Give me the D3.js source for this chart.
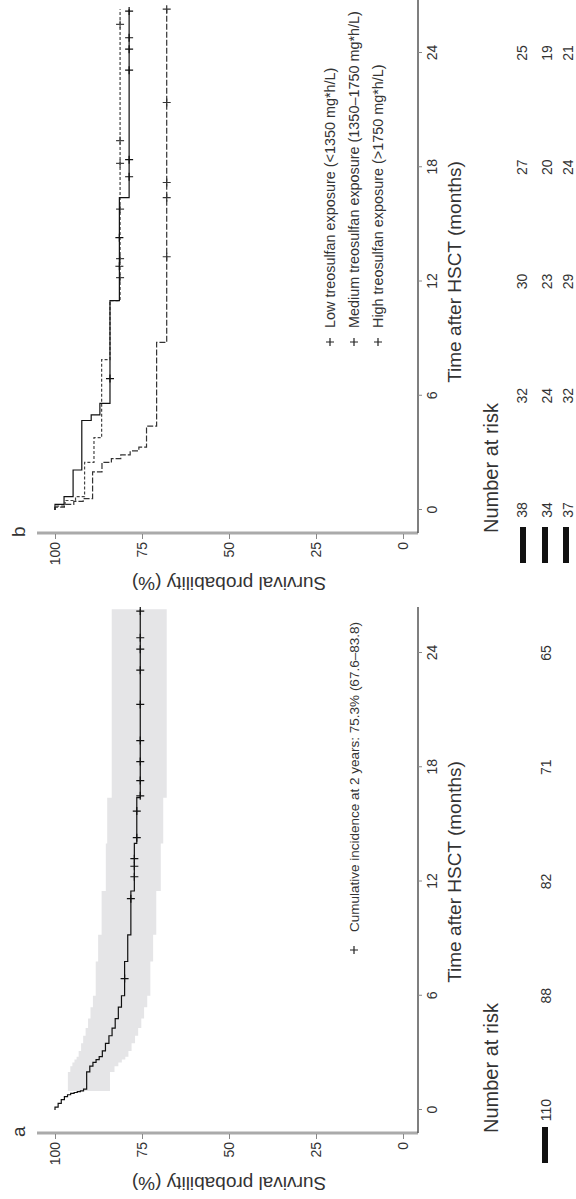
<!DOCTYPE html>
<html>
<head>
<meta charset="utf-8">
<script src="https://cdn.jsdelivr.net/npm/d3@7"></script>
<style>
  body { margin: 0; background: #fff; }
  svg text { font-family: "Liberation Sans", Arial, Helvetica, sans-serif; fill: #333; }
</style>
</head>
<body>
<div id="chart"></div>
<script>
// Kaplan-Meier panels (a: whole cohort, b: by treosulfan exposure)

// shared ticks
var timeTicks = [0, 6, 12, 18, 24];
var survTicks = [0, 25, 50, 75, 100];

// panel a - overall survival, steps + 95% band
var timesA = [0, 0.15, 0.35, 0.55, 0.7, 0.8, 0.87, 0.92, 0.96, 1.0, 1.1, 2.0, 2.3, 2.5, 2.65, 2.8, 3.1, 3.5, 3.9, 4.3, 4.8, 5.4, 6.0, 7.8, 9.2, 11.5, 14.0, 16.4];
var survA  = [100, 99.1, 98.2, 97.3, 96.4, 95.5, 94.5, 93.6, 92.7, 91.8, 90.9, 90.0, 89.1, 88.2, 87.3, 86.4, 85.5, 84.5, 83.6, 82.7, 81.8, 80.9, 80.0, 79.1, 78.2, 77.2, 76.5, 75.5];
var bandTimesA = [1.0, 2.0, 2.3, 2.5, 2.65, 2.8, 3.1, 3.5, 3.9, 4.3, 4.8, 5.4, 6.0, 7.8, 9.2, 11.5, 14.0, 16.4];
var bandLowA   = [84.2, 82.9, 81.8, 80.8, 79.8, 78.9, 78.0, 77.0, 76.1, 75.2, 74.4, 73.5, 72.6, 71.8, 70.9, 69.6, 68.9, 67.9];
var bandHighA  = [96.3, 95.6, 95.0, 94.4, 93.8, 93.2, 92.5, 91.9, 91.2, 90.5, 89.8, 89.1, 88.3, 87.6, 86.6, 85.4, 85.0, 83.7];
var censorA = [6.9, 11.1, 12.25, 12.8, 13.2, 14.3, 15.7, 16.5, 17.3, 18.3, 19.4, 21.3, 23.1, 24.2, 24.8, 26.2];
var endA = 26.3;
var riskA = [110, 88, 82, 71, 65];

// panel b - three exposure groups
var groupNames = ["Low treosulfan exposure (<1350 mg*h/L)",
                  "Medium treosulfan exposure (1350\u20131750 mg*h/L)",
                  "High treosulfan exposure (>1750 mg*h/L)"];
var timesLow = [0, 0.3, 0.7, 2.1, 4.7, 5.0, 5.6, 11.0, 16.4];
var survLow  = [100, 97.4, 94.8, 92.3, 89.6, 87.1, 84.2, 81.5, 78.7];
var timesMed = [0, 0.2, 0.5, 0.7, 2.5, 3.8, 7.9, 11.0];
var survMed  = [100, 97.1, 94.1, 91.5, 88.8, 86.6, 84.2, 81.3];
var timesHigh = [0, 0.15, 0.3, 0.45, 0.6, 2.0, 2.5, 2.7, 2.9, 3.1, 3.3, 4.4, 8.8];
var survHigh  = [100, 97.3, 94.6, 91.9, 89.2, 86.5, 83.8, 81.1, 78.4, 75.9, 73.7, 70.8, 67.9];
var censorLow  = [6.9, 12.8, 14.3, 17.5, 18.4, 23.1, 24.2, 24.8, 26.2];
var censorMed  = [12.2, 13.2, 15.8, 18.2, 19.4, 25.5];
var censorHigh = [13.3, 16.4, 17.2, 21.4, 26.3];
var endB = 26.3;
var riskLow  = [38, 32, 30, 27, 25];
var riskMed  = [34, 24, 23, 20, 19];
var riskHigh = [37, 32, 29, 24, 21];

var svg = d3.select("#chart").append("svg")
  .attr("width", 576)
  .attr("height", 1199);

// the figure is laid out landscape (1199 x 576) and turned a quarter turn anticlockwise
var fig = svg.append("g")
  .attr("transform", "translate(0,1199) rotate(-90)");

var yScale = d3.scaleLinear().domain([0, 100]).range([403, 55]);

var panelA = {letter: "a", left: 66, right: 592, x: d3.scaleLinear().domain([0, 24]).range([89, 546])};
var panelB = {letter: "b", left: 666, right: 1199, x: d3.scaleLinear().domain([0, 24]).range([689, 1146])};

function survAt(times, surv, t) {
  return surv[d3.bisectRight(times, t) - 1];
}

function plus(g, x, y, col) {
  g.append("path")
    .attr("d", `M${x - 4},${y}H${x + 4}M${x},${y - 4}V${y + 4}`)
    .attr("stroke", col || "#222")
    .attr("stroke-width", 1.2);
}

function drawFrame(p) {
  var g = fig.append("g");

  // survival axis
  g.append("line")
    .attr("x1", p.left).attr("x2", p.left)
    .attr("y1", 37).attr("y2", 418)
    .attr("stroke", "#aaa").attr("stroke-width", 3);
  var yAxis = g.append("g")
    .attr("transform", `translate(${p.left - 1},0)`)
    .call(d3.axisLeft(yScale).tickValues(survTicks).tickSize(5).tickPadding(3));
  yAxis.select(".domain").remove();
  yAxis.selectAll("line").attr("stroke", "#888");
  yAxis.selectAll("text").style("font-size", "14px");

  // time axis
  g.append("line")
    .attr("x1", p.left).attr("x2", p.right)
    .attr("y1", 418).attr("y2", 418)
    .attr("stroke", "#555").attr("stroke-width", 1.5);
  var xAxis = g.append("g")
    .attr("transform", "translate(0,418)")
    .call(d3.axisBottom(p.x).tickValues(timeTicks).tickSize(4).tickPadding(5));
  xAxis.select(".domain").remove();
  xAxis.selectAll("line").attr("stroke", "#888");
  xAxis.selectAll("text").style("font-size", "14px");

  // axis titles
  g.append("text")
    .attr("transform", `translate(${p.left - 44},229) rotate(-90)`)
    .attr("text-anchor", "middle")
    .style("font-size", "19px")
    .text("Survival probability (%)");
  g.append("text")
    .attr("x", p.x(12.5)).attr("y", 461)
    .attr("text-anchor", "middle")
    .style("font-size", "19px")
    .text("Time after HSCT (months)");

  // panel letter
  g.append("text")
    .attr("x", p.left - 4).attr("y", 25)
    .style("font-size", "19px")
    .text(p.letter);

  // number at risk title
  g.append("text")
    .attr("x", p.left).attr("y", 498)
    .style("font-size", "20px")
    .text("Number at risk");

  return g;
}

function drawCurve(g, p, times, surv, end, censor, dash, col) {
  var pts = times.map(function(t, i) { return [t, surv[i]]; });
  pts.push([end, surv[surv.length - 1]]);
  var line = d3.line()
    .curve(d3.curveStepAfter)
    .x(function(d) { return p.x(d[0]); })
    .y(function(d) { return yScale(d[1]); });
  g.append("path")
    .attr("d", line(pts))
    .attr("fill", "none")
    .attr("stroke", col)
    .attr("stroke-width", 1.2)
    .attr("stroke-dasharray", dash);
  censor.forEach(function(t) {
    plus(g, p.x(t), yScale(survAt(times, surv, t)), col);
  });
}

function drawRisk(g, p, values, y, barY) {
  g.append("line")
    .attr("x1", p.left - 30).attr("x2", p.left + 6)
    .attr("y1", barY).attr("y2", barY)
    .attr("stroke", "#111").attr("stroke-width", 6);
  g.selectAll(null)
    .data(values)
    .enter()
    .append("text")
    .attr("x", function(d, i) { return p.x(timeTicks[i]); })
    .attr("y", y)
    .attr("text-anchor", "middle")
    .style("font-size", "14px")
    .text(function(d) { return d; });
}

// ---- panel a ----
var gA = drawFrame(panelA);

var bandPts = bandTimesA.map(function(t, i) { return [t, bandLowA[i], bandHighA[i]]; });
bandPts.push([endA, bandLowA[bandLowA.length - 1], bandHighA[bandHighA.length - 1]]);
var band = d3.area()
  .curve(d3.curveStepAfter)
  .x(function(d) { return panelA.x(d[0]); })
  .y0(function(d) { return yScale(d[1]); })
  .y1(function(d) { return yScale(d[2]); });
gA.append("path")
  .attr("d", band(bandPts))
  .attr("fill", "#e5e5e7");

drawCurve(gA, panelA, timesA, survA, endA, censorA, null, "#111");

plus(gA, 249, 354);
gA.append("text")
  .attr("x", 267).attr("y", 359)
  .style("font-size", "13.5px")
  .text("Cumulative incidence at 2 years: 75.3% (67.6\u201383.8)");

drawRisk(gA, panelA, riskA, 551, 545);

// ---- panel b ----
var gB = drawFrame(panelB);

drawCurve(gB, panelB, timesHigh, survHigh, endB, censorHigh, "6,2", "#333");
drawCurve(gB, panelB, timesMed, survMed, endB, censorMed, "3,2", "#444");
drawCurve(gB, panelB, timesLow, survLow, endB, censorLow, null, "#111");

var legendY = [330, 354, 378];
groupNames.forEach(function(name, i) {
  plus(gB, 857, legendY[i]);
  gB.append("text")
    .attr("x", 871).attr("y", legendY[i] + 5)
    .style("font-size", "14.4px")
    .text(name);
});

drawRisk(gB, panelB, riskLow, 527, 523);
drawRisk(gB, panelB, riskMed, 552, 545);
drawRisk(gB, panelB, riskHigh, 573, 566);
</script>
</body>
</html>
